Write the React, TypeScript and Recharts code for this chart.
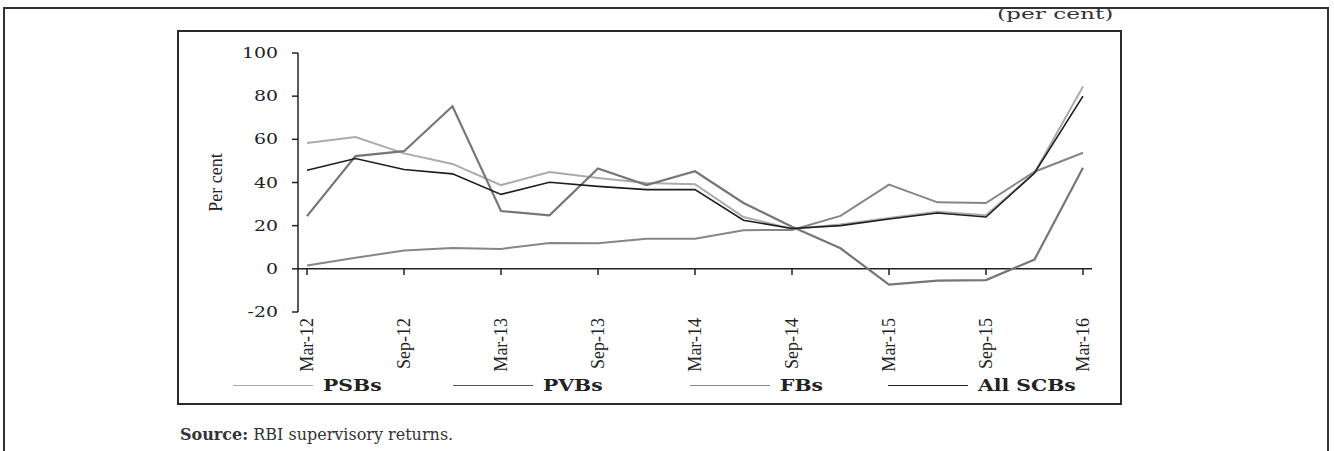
import React from 'react';
import {
  LineChart,
  Line,
  XAxis,
  YAxis,
  ReferenceLine,
  Legend,
} from 'recharts';

// quarterly observations, Mar-12 to Mar-16
const quarters = [
  'Mar-12', 'Jun-12', 'Sep-12', 'Dec-12', 'Mar-13', 'Jun-13', 'Sep-13', 'Dec-13',
  'Mar-14', 'Jun-14', 'Sep-14', 'Dec-14', 'Mar-15', 'Jun-15', 'Sep-15', 'Dec-15', 'Mar-16',
];

const psbs = [58.3, 61.1, 53.5, 48.6, 38.8, 44.9, 42.1, 39.8, 39.2, 24.0, 18.5, 20.5, 23.5, 26.5, 24.8, 44.5, 84.5];
const pvbs = [1.5, 5.1, 8.5, 9.7, 9.2, 12.0, 11.8, 13.9, 13.9, 17.9, 18.0, 24.5, 39.0, 30.8, 30.5, 45.0, 53.8];
const fbs = [24.4, 52.2, 54.5, 75.3, 26.8, 24.8, 46.5, 38.8, 45.2, 30.5, 19.5, 9.5, -7.3, -5.5, -5.2, 4.3, 46.8];
const allScbs = [45.7, 51.1, 46.0, 44.0, 34.5, 40.1, 38.2, 36.7, 36.7, 22.5, 18.7, 20.0, 23.1, 25.9, 24.0, 44.4, 80.0];

const yTicks = [-20, 0, 20, 40, 60, 80, 100];
// categories that carry a tick mark / label
const labelled = quarters.filter((_, i) => i % 2 === 0);

const series = [
  { key: 'psbs', name: 'PSBs', color: '#ababab', legend: '#aaaaaa', width: 2 },
  { key: 'pvbs', name: 'PVBs', color: '#868686', legend: '#555555', width: 2 },
  { key: 'fbs', name: 'FBs', color: '#767676', legend: '#8a8a8a', width: 2.2 },
  { key: 'allScbs', name: 'All SCBs', color: '#1e1e1e', legend: '#222222', width: 1.6 },
];
const legendWidths = [220, 237, 198, 200];

const data = quarters.map((q, i) => ({
  quarter: q,
  psbs: psbs[i],
  pvbs: pvbs[i],
  fbs: fbs[i],
  allScbs: allScbs[i],
}));

const XTick = ({ x, y, payload }: any) => (
  <text
    x={x}
    y={y}
    transform={`rotate(-90 ${x} ${y})`}
    textAnchor="end"
    dominantBaseline="central"
    fontFamily="'Liberation Serif', serif"
    fontSize={18}
    fill="#222"
  >
    {payload.value}
  </text>
);

// the source figure uses a wide face, so stretch the glyphs a bit
const YTick = ({ x, y, payload }: any) => (
  <g transform={`translate(${x},${y})`}>
    <text
      transform="scale(1.35,1)"
      textAnchor="end"
      dy="0.36em"
      fontFamily="'DejaVu Serif', serif"
      fontSize={14}
      fill="#222"
    >
      {payload.value}
    </text>
  </g>
);

const LegendContent = () => (
  <div style={{ display: 'flex', alignItems: 'center' }}>
    {series.map((s, i) => (
      <div key={s.key} style={{ width: legendWidths[i], display: 'flex', alignItems: 'center' }}>
        <div style={{ width: 80, height: 0, borderTop: `1.5px solid ${s.legend}` }} />
        <span
          style={{
            display: 'inline-block',
            marginLeft: 10,
            fontFamily: "'DejaVu Serif', serif",
            fontWeight: 'bold',
            fontSize: 16,
            color: '#222',
            transform: 'scaleX(1.27)',
            transformOrigin: 'left center',
            whiteSpace: 'nowrap',
          }}
        >
          {s.name}
        </span>
      </div>
    ))}
  </div>
);

const App = () => {
  return (
    <div style={{ position: 'absolute', left: 0, top: 0, width: 1334, height: 451, background: '#fff', overflow: 'hidden' }}>
      {/* outer frame */}
      <div style={{ position: 'absolute', left: 3, top: 7, width: 1326, height: 470, border: '2.5px solid #333', boxSizing: 'border-box' }} />
      {/* chart box */}
      <div style={{ position: 'absolute', left: 177, top: 30, width: 945, height: 375, border: '2px solid #2a2a2a', boxSizing: 'border-box' }} />

      <div
        style={{
          position: 'absolute',
          left: 997,
          top: 5,
          fontFamily: "'DejaVu Serif', serif",
          fontSize: 15,
          color: '#333',
          transform: 'scaleX(1.55)',
          transformOrigin: 'left top',
          whiteSpace: 'nowrap',
        }}
      >
        (per cent)
      </div>

      <div style={{ position: 'absolute', left: 178, top: 31 }}>
        <LineChart width={943} height={373} data={data} margin={{ top: 22, right: 29, left: 0, bottom: 12 }}>
          <XAxis
            dataKey="quarter"
            interval={1}
            padding={{ left: 9, right: 9 }}
            axisLine={false}
            tickLine={false}
            tickSize={0}
            tickMargin={6}
            height={56}
            tick={<XTick />}
          />
          <YAxis
            width={120}
            domain={[-20, 100]}
            ticks={yTicks}
            interval={0}
            axisLine={{ stroke: '#222', strokeWidth: 1.5 }}
            tickLine={{ stroke: '#222', strokeWidth: 1.5 }}
            tickSize={6}
            tickMargin={14}
            tick={<YTick />}
            label={(props: any) => {
              const vb = props.viewBox;
              const cx = vb.x + 38;
              const cy = vb.y + vb.height / 2;
              return (
                <text
                  x={cx}
                  y={cy}
                  transform={`rotate(-90 ${cx} ${cy})`}
                  textAnchor="middle"
                  dominantBaseline="central"
                  fontFamily="'Liberation Serif', serif"
                  fontSize={18}
                  fill="#222"
                >
                  Per cent
                </text>
              );
            }}
          />
          <ReferenceLine y={0} stroke="#222" strokeWidth={1.5} />
          {labelled.map((q) => (
            <ReferenceLine
              key={q}
              segment={[{ x: q, y: 0 }, { x: q, y: -2.8 }]}
              stroke="#222"
              strokeWidth={1.5}
            />
          ))}
          <Legend
            verticalAlign="bottom"
            height={24}
            content={<LegendContent />}
            wrapperStyle={{ left: 55, top: 345, width: 'auto' }}
          />
          {series.map((s) => (
            <Line
              key={s.key}
              type="linear"
              dataKey={s.key}
              name={s.name}
              stroke={s.color}
              strokeWidth={s.width}
              dot={false}
              activeDot={false}
              isAnimationActive={false}
            />
          ))}
        </LineChart>
      </div>

      <div style={{ position: 'absolute', left: 180, top: 425, fontFamily: "'DejaVu Serif', serif", fontSize: 16, color: '#333' }}>
        <span style={{ fontWeight: 'bold' }}>Source:</span> RBI supervisory returns.
      </div>
    </div>
  );
};

export default App;
